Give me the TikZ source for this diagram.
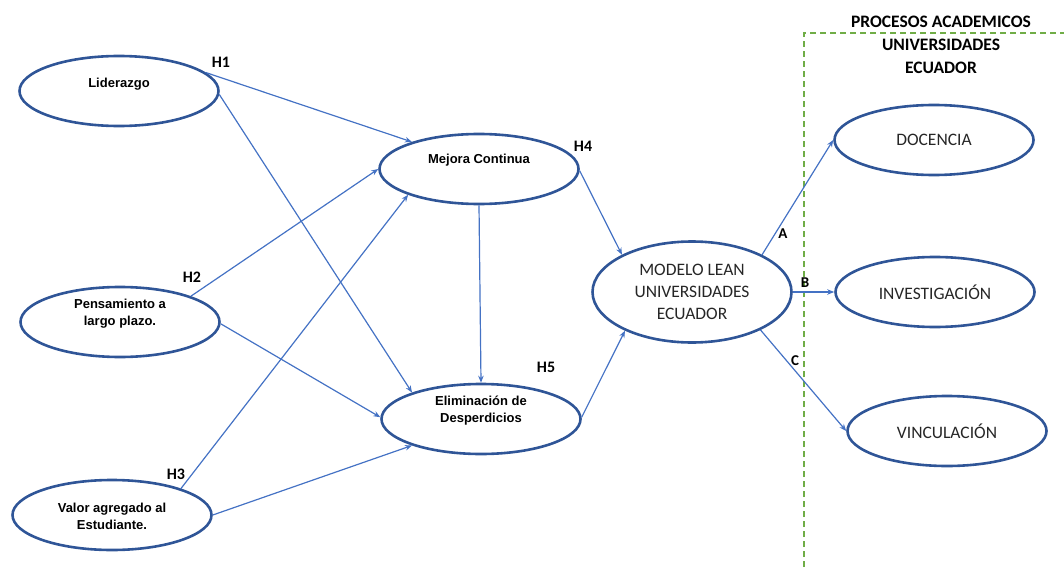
\documentclass[tikz,border=0pt]{standalone}
\usepackage{fontspec}
\setmainfont{Liberation Sans}
\newfontfamily\calib{Carlito}
\usetikzlibrary{arrows.meta,shapes.geometric}
\definecolor{ringblue}{HTML}{2F5597}
\definecolor{linkblue}{HTML}{4472C4}
\definecolor{boxgreen}{HTML}{70AD47}
\definecolor{inkgray}{HTML}{262626}

\begin{document}
\begin{tikzpicture}[x=1pt,y=-1pt,
  bubble/.style={ellipse, draw=ringblue, line width=2.6pt, minimum width=199pt,
    minimum height=70pt, inner sep=0pt},
  bigbubble/.style={bubble, minimum height=101pt},
  boldtxt/.style={font=\bfseries\fontsize{13}{17}\selectfont, align=center,
    text=black, inner sep=0pt},
  caltxt/.style={font=\calib\fontsize{17.5}{22}\selectfont, align=center, text=inkgray},
  hdr/.style={font=\calib\bfseries\fontsize{17.5}{23}\selectfont, align=center,
    text=black, inner sep=0pt},
  hyp/.style={font=\calib\bfseries\fontsize{16}{19}\selectfont, text=black, inner sep=0pt},
  letter/.style={font=\calib\bfseries\fontsize{15}{18}\selectfont, text=black, inner sep=0pt},
  link/.style={draw=linkblue, line width=1.2pt, -{Stealth[length=7pt,width=5.5pt]}},
]
\useasboundingbox (0,0) rectangle (1064,567);

% group frame for the academic processes
\draw[boxgreen, line width=1.4pt, dash pattern=on 6pt off 4pt]
  (804,567) -- (804,33) -- (1064,33);
\node[hdr] (hdr) at (941,45) {PROCESOS ACADEMICOS\\UNIVERSIDADES\\ECUADOR};

% left-hand constructs
\node[bubble] (lid) at (119,91) {};
\node[boldtxt] (lid-t) at (119,84) {Liderazgo};
\node[bubble] (pen) at (120,322) {};
\node[boldtxt] (pen-t) at (120,314) {Pensamiento a\\largo plazo.};
\node[bubble] (val) at (112,515) {};
\node[boldtxt] (val-t) at (112,516) {Valor agregado al\\Estudiante.};

% middle constructs
\node[bubble] (mej) at (479,169) {};
\node[boldtxt] (mej-t) at (479,160) {Mejora Continua};
\node[bubble] (eli) at (481,419) {};
\node[boldtxt] (eli-t) at (481,411) {Eliminación de\\Desperdicios};

% central model
\node[bigbubble, caltxt] (mod) at (692,292) {MODELO LEAN\\UNIVERSIDADES\\ECUADOR};

% academic processes
\node[bubble, caltxt] (doc) at (934,140) {DOCENCIA};
\node[bubble, caltxt] (inv) at (935,292) {INVESTIGACIÓN};
\node[bubble, caltxt] (vin) at (947,431) {VINCULACIÓN};

% hypothesis paths
\draw[link] (lid.12) -- (mej.158);
\draw[link] (lid.-2) -- (eli.159);
\draw[link] (pen.20) -- (mej.180);
\draw[link] (pen.-1) -- (eli.179);
\draw[link] (val.21) -- (mej.200);
\draw[link] (val.0) -- (eli.201);
\draw[link] (mej.-90) -- (eli.90);
\draw[link] (mej.-1) -- (mod.152);
\draw[link] (eli.1) -- (mod.210);
\draw[link] (mod.28) -- (doc.180);
\draw[link] (mod.0) -- (inv.180);
\draw[link] (mod.-29) -- (vin.180);

% path labels
\node[hyp] (h1) at (221,62) {H1};
\node[hyp] (h2) at (192,277) {H2};
\node[hyp] (h3) at (176,474) {H3};
\node[hyp] (h4) at (583,146) {H4};
\node[hyp] (h5) at (546,367) {H5};
\node[letter] (la) at (783,234) {A};
\node[letter] (lb) at (805,283) {B};
\node[letter] (lc) at (795,361) {C};
\end{tikzpicture}
\end{document}
